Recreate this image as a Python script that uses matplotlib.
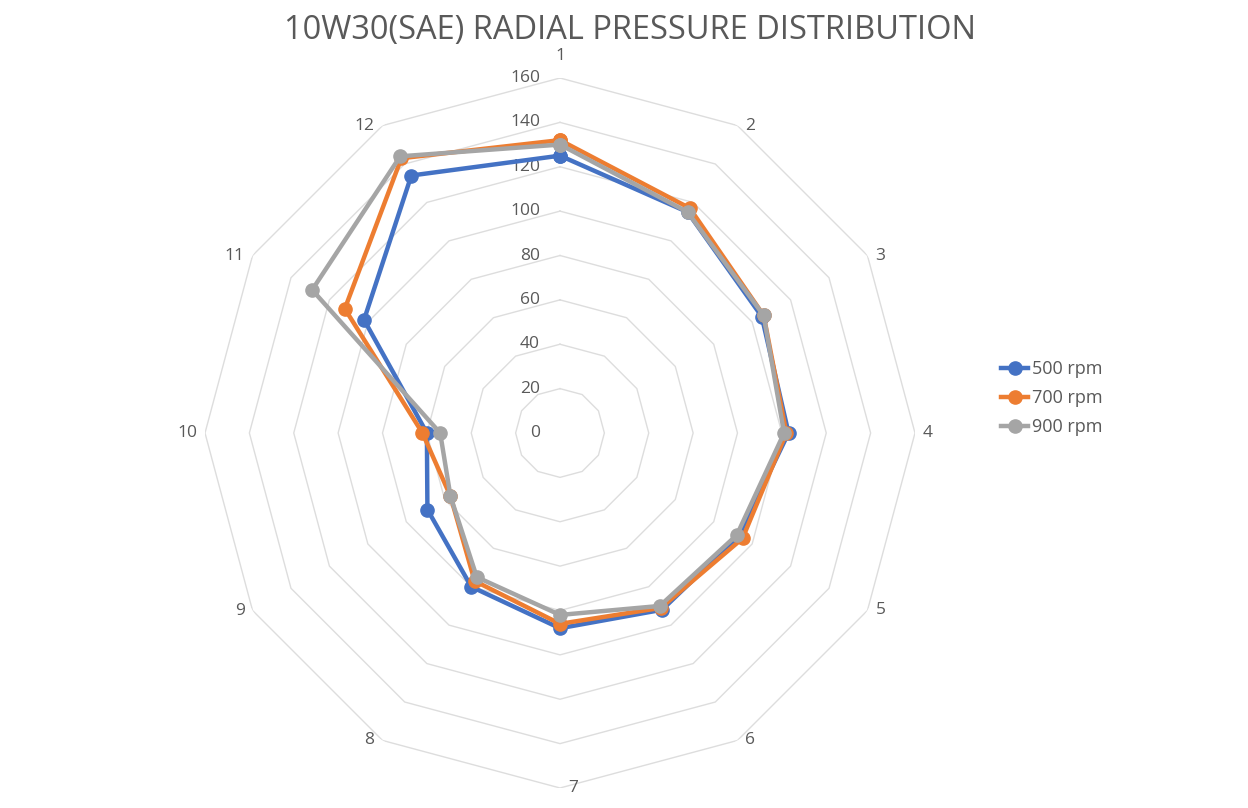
import numpy as np
import matplotlib.pyplot as plt

# Radial pressure readings at 12 ports, per engine speed
ports = ['1', '2', '3', '4', '5', '6', '7', '8', '9', '10', '11', '12']
p_500 = [125, 115, 105, 103, 93, 92, 88, 80, 69, 60, 102, 134]
p_700 = [132, 117, 106, 102, 95, 91, 86, 77, 57, 62, 112, 143]
p_900 = [130, 115, 106, 101, 92, 90, 82, 75, 57, 54, 129, 144]
series = {'500 rpm': p_500, '700 rpm': p_700, '900 rpm': p_900}
colors = {'500 rpm': '#4472C4', '700 rpm': '#ED7D31', '900 rpm': '#A5A5A5'}
r_ticks = [0, 20, 40, 60, 80, 100, 120, 140, 160]

plt.rcParams['font.family'] = ['Open Sans', 'DejaVu Sans']
txt = '#595959'
grid = '#DDDDDD'
PT = 0.72  # points per pixel at dpi 100

W, H = 1248, 808
fig = plt.figure(figsize=(W / 100, H / 100), dpi=100)
cx, cy, R = 560, 808 - 433, 355
ax = fig.add_axes([(cx - R) / W, (cy - R) / H, 2 * R / W, 2 * R / H], projection='polar')
ax.set_theta_zero_location('N')
ax.set_theta_direction(-1)
ax.set_ylim(0, 160)
ax.grid(False)
ax.set_xticks([])
ax.set_yticks([])
ax.spines['polar'].set_visible(False)
ax.patch.set_alpha(0)

n = len(ports)
theta = np.arange(n) * 2 * np.pi / n
closed = np.append(theta, theta[0])

# polygon gridlines (no spokes)
for r in r_ticks[1:]:
    ax.plot(closed, [r] * (n + 1), color=grid, lw=1.0, zorder=1)

for r in r_ticks:
    ax.annotate(str(r), xy=(0, r), xytext=(-20 * PT, 0), textcoords='offset points',
                ha='right', va='center', fontsize=12.5, color=txt)

# category labels just outside the outer ring
for i, (t, lab) in enumerate(zip(theta, ports)):
    if i == 0:
        off, ha, va = (0, 14 * PT), 'center', 'bottom'
    elif 1 <= i <= 6:
        off, ha, va = (8 * PT, 0), 'left', 'center'
    else:
        off, ha, va = (-8 * PT, 0), 'right', 'center'
    ax.annotate(lab, xy=(t, 160), xytext=off, textcoords='offset points',
                ha=ha, va=va, fontsize=12.5, color=txt)

for name, vals in series.items():
    v = np.append(vals, vals[0])
    ax.plot(closed, v, color=colors[name], lw=3.2, marker='o', markersize=9.5,
            label=name, zorder=3)

fig.text(630 / W, 1 - 30 / H, '10W30(SAE) RADIAL PRESSURE DISTRIBUTION', ha='center',
         va='center', fontsize=23.5, color=txt)

fig.legend(loc='center left', bbox_to_anchor=(985 / W, 1 - 398 / H), frameon=False,
           fontsize=13, labelcolor=txt, handlelength=1.5, handletextpad=0.2,
           labelspacing=0.6)

fig.savefig('out.png', dpi=100, facecolor='white')
